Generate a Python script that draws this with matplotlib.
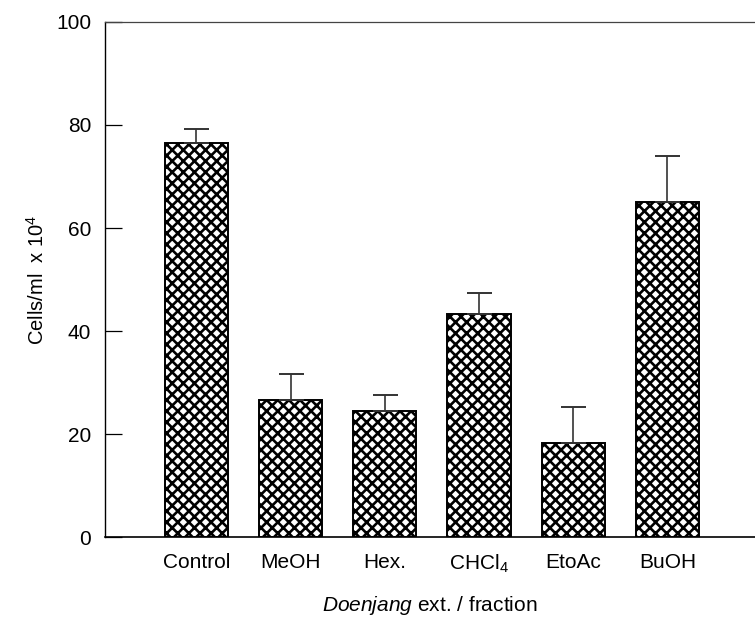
import matplotlib
matplotlib.use("Agg")
import matplotlib.pyplot as plt
import numpy as np

plt.rcParams["font.family"] = ["Liberation Sans", "DejaVu Sans"]
plt.rcParams["mathtext.fontset"] = "custom"
plt.rcParams["mathtext.rm"] = "Liberation Sans"
plt.rcParams["mathtext.it"] = "Liberation Sans:italic"
plt.rcParams["hatch.linewidth"] = 1.9

fractions = ["Control", "MeOH", "Hex.", "CHCl$_4$", "EtoAc", "BuOH"]
cells = [76.5, 26.6, 24.5, 43.4, 18.3, 65.1]
cells_sd = [2.8, 5.1, 3.1, 3.9, 6.9, 8.9]
yticks = [0, 20, 40, 60, 80, 100]

fig = plt.figure(figsize=(7.55, 6.24), dpi=100)
ax = fig.add_axes([0.139, 0.139, 0.861, 0.826])

x = np.arange(len(fractions))
ax.bar(x, cells, 0.67, color="white", edgecolor="black", linewidth=1.4, hatch="xxx",
       yerr=[np.zeros(len(cells)), cells_sd], capsize=9,
       error_kw=dict(ecolor="#333333", elinewidth=1.2, capthick=1.4))

ax.set_xlim(-0.97, 5.93)
ax.set_ylim(0, 100)
ax.set_yticks(yticks)
ax.set_xticks(x)
ax.set_xticklabels(fractions, fontsize=15)
ax.tick_params(axis="y", direction="in", length=12, width=0.9, labelsize=15, pad=10)
ax.tick_params(axis="x", length=0, pad=11)

ax.spines["right"].set_visible(False)
ax.spines["top"].set_color("#444444")
ax.spines["top"].set_linewidth(0.9)
ax.spines["left"].set_linewidth(1.0)
ax.spines["bottom"].set_linewidth(1.2)

ax.set_ylabel("Cells/ml  x 10$^4$", fontsize=14.5, labelpad=6)
ax.set_xlabel("$\\it{Doenjang}$ ext. / fraction", fontsize=15, labelpad=14)

fig.savefig("out.png", dpi=100)
